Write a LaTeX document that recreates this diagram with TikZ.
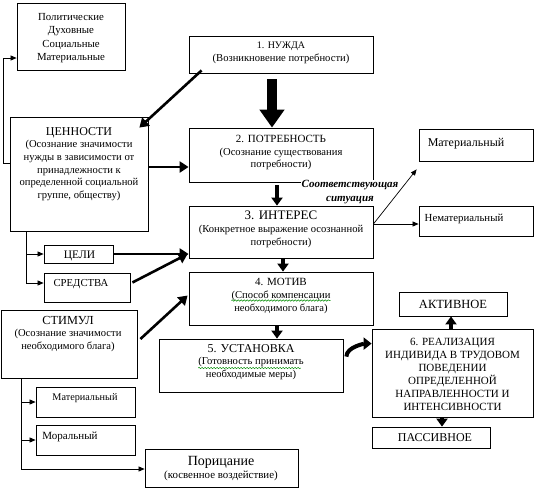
\documentclass[tikz,border=0pt]{standalone}
\usepackage{fontspec}
\setmainfont{Liberation Serif}
\usetikzlibrary{arrows.meta,calc,decorations.pathmorphing}
\begin{document}
\begin{tikzpicture}[x=1pt,y=-1pt,
  box/.style={draw=black,line width=0.8pt,rectangle,inner sep=0pt},
  txt/.style={align=center,inner sep=0pt,font=\fontsize{10.6}{12.8}\selectfont},
  bigtxt/.style={align=center,inner sep=0pt,font=\fontsize{11.5}{13}\selectfont},
  thinarr/.style={line width=0.7pt,-{Triangle[width=5pt,length=6pt]}},
  thickarr/.style={line width=2.6pt,-{Triangle[width=11pt,length=9pt]}},
  fatarr/.style={line width=4pt,-{Triangle[width=11pt,length=8pt]}},
  squig/.style={green!55!black,line width=0.5pt,decorate,decoration={snake,amplitude=0.7pt,segment length=3pt}}
]
\useasboundingbox (0,0) rectangle (534,491);
% boxes
\node[box,minimum width=108pt,minimum height=67pt] (pol) at (71,36.5) {};
\node[box,minimum width=184pt,minimum height=37pt] (nuzhda) at (281,54.5) {};
\node[box,minimum width=138pt,minimum height=114pt] (cen) at (79,174) {};
\node[box,minimum width=184pt,minimum height=54pt] (potr) at (281,155) {};
\node[box,minimum width=184pt,minimum height=52pt] (inter) at (281,232) {};
\node[box,minimum width=114pt,minimum height=32pt] (matR) at (476,145) {};
\node[box,minimum width=114pt,minimum height=30pt] (nemat) at (476,221) {};
\node[box,minimum width=69pt,minimum height=18pt] (celi) at (78.5,254) {};
\node[box,minimum width=86pt,minimum height=29pt] (sred) at (87,287.5) {};
\node[box,minimum width=136pt,minimum height=68pt] (stim) at (69,344) {};
\node[box,minimum width=184pt,minimum height=53pt] (motiv) at (281,298.5) {};
\node[box,minimum width=184pt,minimum height=53pt] (ust) at (251,365.5) {};
\node[box,minimum width=161pt,minimum height=88pt] (real) at (452.5,373) {};
\node[box,minimum width=108pt,minimum height=24pt] (akt) at (453,304) {};
\node[box,minimum width=118pt,minimum height=21pt] (pass) at (431,437.5) {};
\node[box,minimum width=99pt,minimum height=30pt] (matB) at (85.5,402) {};
\node[box,minimum width=99pt,minimum height=30pt] (moral) at (85.5,440) {};
\node[box,minimum width=153pt,minimum height=38pt] (por) at (221.5,468) {};
% texts
\node[txt,font=\fontsize{10.8}{13.5}\selectfont] (polT) at (71,38) {Политические\\Духовные\\Социальные\\Материальные};
\node[txt] (nuzhdaT) at (281,52.5) {{\fontsize{10}{12}\selectfont 1. НУЖДА}\\(Возникновение потребности)};
\node[txt,anchor=north,font=\fontsize{10.6}{12.7}\selectfont] (cenT) at (79,127) {{\fontsize{12}{12}\selectfont ЦЕННОСТИ}\\(Осознание значимости\\нужды в зависимости от\\принадлежности к\\определенной социальной\\группе, обществу)};
\node[txt] (potrT) at (281,152.5) {{\fontsize{11}{12}\selectfont 2. ПОТРЕБНОСТЬ}\\(Осознание существования\\потребности)};
\node[txt] (interT) at (281,229.5) {{\fontsize{13}{12}\selectfont 3. ИНТЕРЕС}\\(Конкретное выражение осознанной\\потребности)};
\node[txt,font=\fontsize{12}{12}\selectfont] (matRT) at (466,144) {Материальный};
\node[txt,font=\fontsize{10.8}{12}\selectfont] (nematT) at (464,219) {Нематериальный};
\node[txt,font=\fontsize{11.5}{12}\selectfont] (celiT) at (79.5,256) {ЦЕЛИ};
\node[txt,font=\fontsize{10.7}{12}\selectfont] (sredT) at (81,284) {СРЕДСТВА};
\node[txt] (stimT) at (68,334) {{\fontsize{12.3}{12}\selectfont СТИМУЛ}\\(Осознание значимости\\необходимого блага)};
\node[txt] (motivT) at (281,296) {{\fontsize{11}{12}\selectfont 4. МОТИВ}\\(Способ компенсации\\необходимого блага)};
\node[txt] (ustT) at (251,362) {{\fontsize{12}{12}\selectfont 5. УСТАНОВКА}\\(Готовность принимать\\необходимые меры)};
\node[bigtxt,font=\fontsize{11}{13}\selectfont] (realT) at (452.5,374.5) {6. РЕАЛИЗАЦИЯ\\ИНДИВИДА В ТРУДОВОМ\\ПОВЕДЕНИИ\\ОПРЕДЕЛЕННОЙ\\НАПРАВЛЕННОСТИ И\\ИНТЕНСИВНОСТИ};
\node[txt,font=\fontsize{12.5}{12}\selectfont] (aktT) at (453,304) {АКТИВНОЕ};
\node[txt,font=\fontsize{12}{12}\selectfont] (passT) at (435,438) {ПАССИВНОЕ};
\node[txt,font=\fontsize{10.2}{12}\selectfont] (matBT) at (85,398) {Материальный};
\node[txt,font=\fontsize{11}{12}\selectfont] (moralT) at (70,437) {Моральный};
\node[txt,font=\fontsize{10.9}{12}\selectfont] (porT) at (221,469) {{\fontsize{14}{14}\selectfont Порицание}\\[1pt](косвенное воздействие)};
\node[align=center,inner sep=0.5pt,fill=white,font=\fontsize{11}{13.5}\bfseries\itshape\selectfont] (sit) at (350,192) {Соответствующая\\ситуация};
% spell-check squiggles
\draw[squig] ($(motivT.west)+(0,4.5)$) -- ($(motivT.east)+(0,4.5)$);
\draw[squig] ($(ustT.west)+(0,6)$) -- ($(ustT.east)+(-3,6)$);
% connectors
\draw[thinarr] (cen.west |- 0,163) -- (3,163) -- (3,58) -- (pol.west |- 0,58);
\draw[thickarr] ($(nuzhda.south west)+(13,-3)$) -- ($(cen.north east)+(-9,11)$);
\draw[line width=10pt,-{Triangle[width=24pt,length=18pt]}] ($(nuzhda.south)+(-9,6)$) -- ($(potr.north)+(-9,0)$);
\draw[thickarr] (cen.east |- 0,167) -- (potr.west |- 0,167);
\draw[fatarr] ($(potr.south)+(-4,3)$) -- ($(inter.north)+(-4,0)$);
\draw[thinarr] (inter.east |- 0,224) -- ($(matR.south west)+(-2,8)$);
\draw[thinarr] (inter.east |- 0,224) -- (nemat.west |- 0,224);
\draw[line width=0.8pt] (cen.south -| 26,0) -- (26,283);
\draw[thinarr] (26,254) -- (celi.west |- 0,254);
\draw[thinarr] (26,283) -- (sred.west |- 0,283);
\draw[thickarr] (celi.east |- 0,254) -- (inter.west |- 0,254);
\draw[thickarr] ($(sred.east)+(2,-5)$) -- ($(inter.west)+(-1,22)$);
\draw[thickarr] ($(stim.east)+(3,-5)$) -- ($(motiv.west)+(-1,-3)$);
\draw[fatarr] (inter.south -| 283,0) -- (motiv.north -| 283,0);
\draw[fatarr] (motiv.south -| 277,0) -- (ust.north -| 277,0);
\draw[line width=4pt,-{Triangle[width=12pt,length=8pt]}] ($(ust.north east)+(3,18)$) .. controls +(0,-10) and +(-6,0) .. ($(real.north west)+(0,15)$);
\draw[fatarr] (real.north -| 451,0) -- (akt.south -| 451,0);
\draw[fatarr] (real.south -| 442,0) -- (pass.north -| 442,0);
\draw[line width=0.8pt] (stim.south -| 21,0) -- (21,469);
\draw[thinarr] (21,402) -- (matB.west |- 0,402);
\draw[thinarr] (21,440) -- (moral.west |- 0,440);
\draw[thinarr] (21,469) -- (por.west |- 0,469);
\end{tikzpicture}
\end{document}
